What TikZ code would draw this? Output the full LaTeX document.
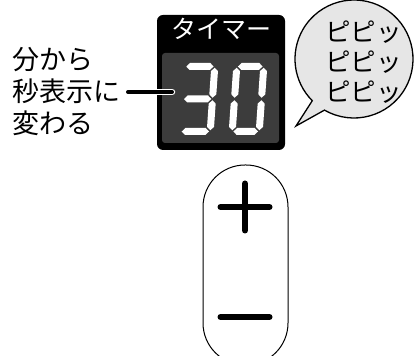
\documentclass[tikz,border=0pt]{standalone}
\usepackage{fontspec}
\usetikzlibrary{calc}
\newfontfamily\jp{Noto Sans CJK JP}
\definecolor{screengrey}{HTML}{3C3C3C}
\definecolor{bubblegrey}{HTML}{E6E6E6}
\newcommand\hsg[3]{\fill[segfill] (#1,#3) -- (#1+3.5,#3+3.5) -- (#2-3.5,#3+3.5) -- (#2,#3) -- (#2-3.5,#3-3.5) -- (#1+3.5,#3-3.5) -- cycle;}
\newcommand\vsg[3]{\fill[segfill] (#1,#2) -- (#1+3.5,#2+3.5) -- (#1+3.5,#3-3.5) -- (#1,#3) -- (#1-3.5,#3-3.5) -- (#1-3.5,#2+3.5) -- cycle;}
\begin{document}
\begin{tikzpicture}[x=1pt,y=1pt,
  segfill/.style={fill=white},
  jptext/.style={inner sep=0pt, font=\jp, align=left},
  connector/.style={line width=4pt, line cap=round},
  keystroke/.style={line width=6pt, line cap=round},
  pillbox/.style={draw=black, line width=1pt, rounded corners=42pt}]
\useasboundingbox (0,0) rectangle (415,356);

% display
\node[fill=black, rounded corners=6pt, minimum width=128pt, minimum height=135pt, inner sep=0pt] (disp) at (221,273.5) {};
\node[fill=screengrey, rounded corners=3pt, minimum width=117pt, minimum height=90pt, inner sep=0pt] (screen) at (220.5,258) {};
\node[jptext, text=white, font=\jp\fontsize{25}{28}\selectfont] (title) at (221,327) {タイマー};

% digit 3
\begin{scope}[shift={(199,257)}, xslant=0.07]
  \hsg{-15}{12.3}{32.5}
  \hsg{-15}{12.3}{0}
  \hsg{-15}{12.3}{-32.5}
  \vsg{13.5}{1.2}{31.3}
  \vsg{13.5}{-31.3}{-1.2}
\end{scope}
% digit 0
\begin{scope}[shift={(248,257)}, xslant=0.07]
  \hsg{-12.3}{12.3}{32.5}
  \hsg{-12.3}{12.3}{-32.5}
  \vsg{13.5}{1.2}{31.3}
  \vsg{13.5}{-31.3}{-1.2}
  \vsg{-13.5}{1.2}{31.3}
  \vsg{-13.5}{-31.3}{-1.2}
\end{scope}

% left label and connector
\node[jptext, anchor=east, font=\jp\fontsize{27}{32}\selectfont] (lbl) at (121,264) {分から\\秒表示に\\変わる};
\coordinate (lineend) at (172,265);
\draw[connector, white, line width=6.5pt] ([xshift=7pt]lbl.east) -- (lbl.east -| lineend);
\draw[connector] ([xshift=7pt]lbl.east) -- (lbl.east -| lineend);

% speech bubble
\coordinate (tip) at (296,230);
\coordinate (bc) at (354,297);
\draw[fill=bubblegrey, line width=1.3pt, line join=miter] (tip) -- ($(bc)+(240:59)$) arc[start angle=240, end angle=585, radius=59] -- cycle;
\node[jptext, anchor=west, font=\jp\fontsize{25.5}{30}\selectfont] (beep) at (325,294) {ピピッ\\ピピッ\\ピピッ};

% +/- key
\node[pillbox, minimum width=85pt, minimum height=200pt, inner sep=0pt] (pill) at (245.5,91) {};
\coordinate (plusc) at (245,149);
\coordinate (minusc) at (245,39);
\draw[keystroke] ([xshift=-24.5pt]plusc) -- ([xshift=24.5pt]plusc);
\draw[keystroke] ([yshift=-23.5pt]plusc) -- ([yshift=23.5pt]plusc);
\draw[keystroke] ([xshift=-24.5pt]minusc) -- ([xshift=24.5pt]minusc);
\end{tikzpicture}
\end{document}
